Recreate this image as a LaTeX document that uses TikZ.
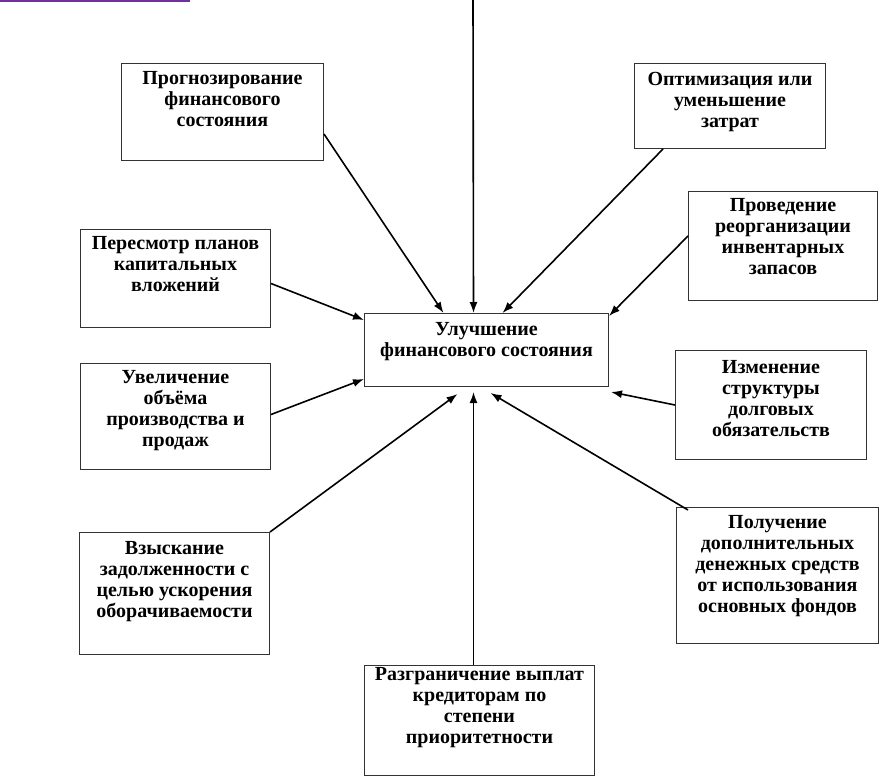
\documentclass[tikz,border=0pt]{standalone}
\usepackage{fontspec}
\setmainfont{Liberation Serif}
\usepackage{xcolor}
\usepackage{tikz}
\usetikzlibrary{arrows.meta}

\definecolor{lilovyj}{RGB}{112,48,160}
\newcommand{\tekst}[4][21pt]{\parbox[t][#3][t]{#2}{\centering\rule{0pt}{#1}#4}}

\begin{document}
\begin{tikzpicture}[x=1pt,y=-1pt,
    blok/.style={draw=black!80,line width=1pt,inner sep=0pt,anchor=north west,
      font=\bfseries\fontsize{20}{21}\selectfont},
    strelka/.style={-{Latex[length=11pt,width=8pt]},line width=1.6pt}]
       \useasboundingbox (0,0) rectangle (882,778);
       \draw[lilovyj,line width=2pt] (0,1) -- (190,1);

       \node[blok] (cel) at (364,313) {\tekst[22pt]{244pt}{73pt}{Улучшение\\финансового состояния}};
       \node[blok] (prog) at (121,63) {\tekst{202pt}{97pt}{Прогнозирование\\финансового\\состояния}};
       \node[blok] (optim) at (634,63) {\tekst[22pt]{191pt}{85pt}{Оптимизация или\\уменьшение\\затрат}};
       \node[blok] (reorg) at (688,191) {\tekst[20pt]{189pt}{109pt}{Проведение\\реорганизации\\инвентарных\\запасов}};
       \node[blok] (peresm) at (80,229) {\tekst[20pt]{190pt}{98pt}{Пересмотр планов\\капитальных\\вложений}};
       \node[blok] (uvel) at (80,363) {\tekst[20pt]{190pt}{106pt}{Увеличение\\объёма\\производства и\\продаж}};
       \node[blok] (izm) at (675,350) {\tekst[23pt]{191pt}{109pt}{Изменение\\структуры\\долговых\\обязательств}};
       \node[blok] (vzysk) at (79,532) {\tekst[22pt]{190pt}{122pt}{Взыскание\\задолженности с\\целью ускорения\\оборачиваемости}};
       \node[blok] (razgr) at (364,665) {\tekst[15pt]{230pt}{110pt}{Разграничение выплат\\кредиторам по\\степени\\приоритетности}};
       \node[blok] (poluch) at (676,507) {\tekst{202pt}{136pt}{Получение\\дополнительных\\денежных средств\\от использования\\основных фондов}};
       \coordinate (verh) at (473,0);

       \path[strelka]
       (verh) edge ([xshift=-13pt]cel.north)
       ([yshift=-22pt]prog.east) edge ([xshift=-43pt]cel.north)
       ([xshift=-67pt]optim.south) edge ([xshift=16pt]cel.north)
       ([yshift=10pt]reorg.west) edge ([yshift=-3pt]cel.north east)
       ([yshift=-5pt]peresm.east) edge ([yshift=30pt]cel.west)
       ([yshift=2pt]uvel.east) edge ([yshift=-29pt]cel.west)
       (izm.west) edge ([shift={(2pt,-5pt)}]cel.south east)
       (vzysk.north east) edge ([shift={(-29pt,-7pt)}]cel.south)
       ([xshift=-6pt]razgr.north) edge ([shift={(-13pt,-5pt)}]cel.south)
       ([shift={(12pt,-3pt)}]poluch.north west) edge ([shift={(4pt,-6pt)}]cel.south);
    \end{tikzpicture}
\end{document}
